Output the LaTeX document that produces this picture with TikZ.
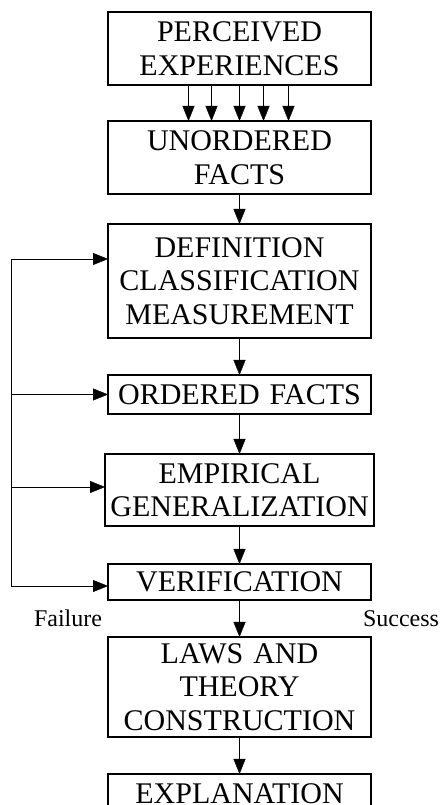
\documentclass[tikz,border=0pt]{standalone}
\usepackage{fontspec}
\setmainfont{Liberation Serif}
\usetikzlibrary{arrows.meta,positioning}
\tikzset{
    %Define standard arrow tip
    >={Triangle[length=15pt,width=12pt]},
    thick,
    stage/.style={
      rectangle,
      draw=black, very thick,
      inner sep=0pt, outer sep=0pt,
      minimum width=263pt,
      text width=255pt,
      font=\fontsize{30}{33.5}\selectfont,
      text centered},
    outcome/.style={
      anchor=base,
      font=\fontsize{24}{28}\selectfont},
}

\begin{document}
\begin{tikzpicture}[x=1pt,y=1pt]
    \useasboundingbox (0,0) rectangle (441,805);
    \node (pe) [stage, minimum height=73pt] at (239.5,756.5)
          {PERCEIVED\\EXPERIENCES};
    \node (uf) [stage, minimum height=73pt] [below=36pt of pe]
          {UNORDERED\\FACTS};
    \node (dcm) [stage, minimum height=114pt] [below=30pt of uf]
          {DEFINITION\\CLASSIFICATION\\MEASUREMENT}
          edge [<-] (uf);
    \node (ofacts) [stage, minimum height=39pt] [below=37pt of dcm]
          {ORDERED FACTS}
          edge [<-] (dcm);
    \node (eg) [stage, minimum height=72pt, minimum width=269pt, text width=265pt]
          [below=40pt of ofacts]
          {EMPIRICAL\\GENERALIZATION}
          edge [<-] (ofacts);
    \node (vr) [stage, minimum height=36pt] [below=38pt of eg]
          {VERIFICATION}
          edge [<-] (eg);
    \node (ltc) [stage, minimum height=100pt] [below=37pt of vr]
          {LAWS AND\\THEORY\\CONSTRUCTION}
          edge [<-] (vr);
    \node (ex) [stage, minimum height=39pt] [below=37pt of ltc]
          {EXPLANATION}
          edge [<-] (ltc);

    % many experiences feed the unordered facts
    \foreach \dx in {-51,-28,0,24,49}
      \draw [->] ([xshift=\dx pt]pe.south) -- ([xshift=\dx pt]uf.north);

    % return path on the left
    \coordinate (rail) at (11,0);
    \coordinate (in1) at ([yshift=22pt]dcm.west);
    \coordinate (in2) at (ofacts.west);
    \coordinate (in3) at ([yshift=3pt]eg.west);
    \coordinate (in4) at ([yshift=-4pt]vr.west);
    \draw [<->] (in1) -- (rail |- in1) -- (rail |- in4) -- (in4);
    \foreach \n in {in2,in3}
      \draw [->] (rail |- \n) -- (\n);

    \node (fail) [outcome] at ([xshift=-40pt,yshift=-27pt]vr.south west) {Failure};
    \node (succ) [outcome] at ([xshift=30pt,yshift=-27pt]vr.south east) {Success};
\end{tikzpicture}
\end{document}
